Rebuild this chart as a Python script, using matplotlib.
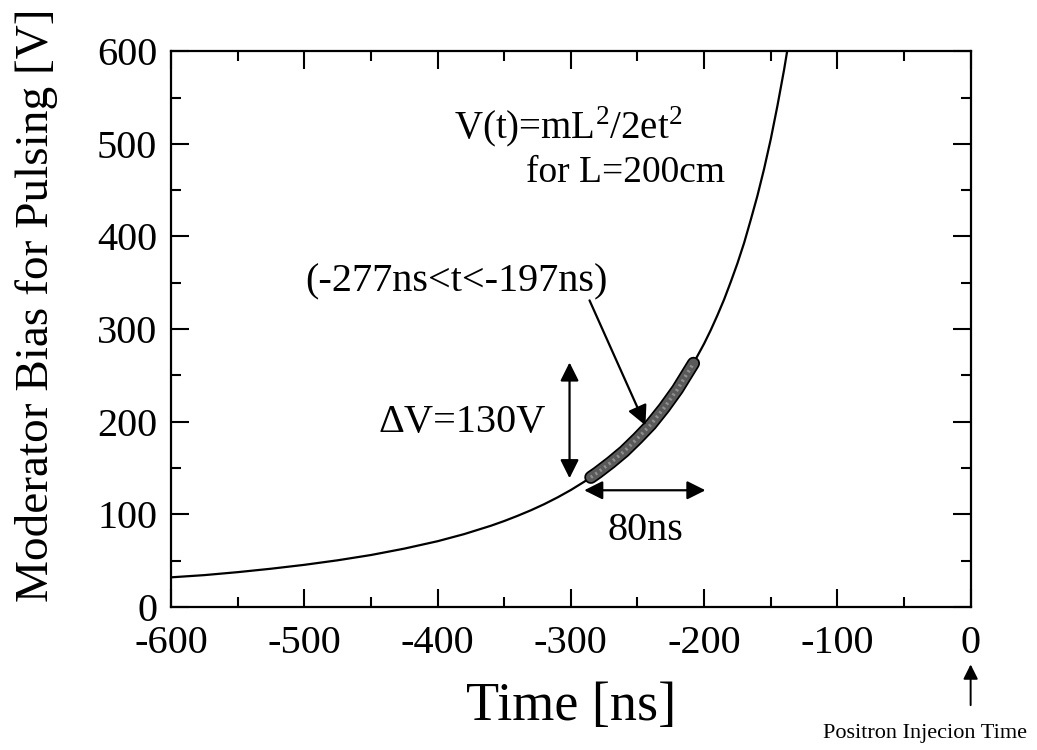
import matplotlib
matplotlib.use("Agg")
import matplotlib.pyplot as plt
from matplotlib.ticker import MultipleLocator

plt.rcParams['font.family'] = ['Liberation Serif', 'DejaVu Serif']
plt.rcParams['mathtext.fontset'] = 'custom'
plt.rcParams['mathtext.rm'] = 'Liberation Serif'

# curve: V(t) for L = 200 cm
time_ns = [-600, -575, -550, -525, -500, -475, -450, -425, -400, -380, -360,
           -350, -340, -330, -320, -310, -300, -290, -280, -270, -260, -250,
           -240, -230, -220, -210, -200, -195, -190, -185, -180, -175, -170,
           -165, -160, -155, -150, -145, -140, -137]
bias_v = [32, 34.4, 37.6, 41.3, 45.5, 50.4, 56.1, 63, 71, 78.7, 87.7,
          92.8, 98.4, 104.4, 111, 118.3, 126.3, 135.2, 145, 156, 168.2, 181.9,
          197.4, 214.9, 234.9, 257.8, 284.3, 299, 315, 332, 351, 371, 393,
          418, 444, 473, 505, 541, 580, 606]

# highlighted pulsing window
win_t = [-285, -280, -270, -260, -250, -240, -230, -220, -208]
win_v = [140, 145, 156, 168, 182, 197, 215, 235, 263]

xticks = [-600, -500, -400, -300, -200, -100, 0]
yticks = [0, 100, 200, 300, 400, 500, 600]

fig = plt.figure(figsize=(10.37, 7.5), dpi=100)
ax = fig.add_axes([0.165, 0.1907, 0.771, 0.741])

ax.plot(time_ns, bias_v, color='black', lw=1.6)
ax.plot(win_t, win_v, color='black', lw=9.5, solid_capstyle='round')
ax.plot(win_t, win_v, color='#5a5a5a', lw=7, solid_capstyle='round')
ax.plot(win_t, win_v, color='#8f8f8f', lw=2.5, ls=(0, (0.6, 1.0)))

ax.set_xlim(-600, 0)
ax.set_ylim(0, 600)
ax.set_xticks(xticks)
ax.set_yticks(yticks)
ax.set_xticklabels([str(v) for v in xticks])
ax.xaxis.set_minor_locator(MultipleLocator(50))
ax.yaxis.set_minor_locator(MultipleLocator(50))
ax.tick_params(which='both', direction='in', top=True, right=True, width=1.5,
               labelsize=29, pad=10)
ax.tick_params(axis='x', pad=13)
ax.tick_params(which='major', length=13)
ax.tick_params(which='minor', length=7)
for s in ax.spines.values():
    s.set_linewidth(1.6)

ax.set_xlabel('Time [ns]', fontsize=39, labelpad=14)
ax.set_ylabel('Moderator Bias for Pulsing [V]', fontsize=34)
ax.yaxis.set_label_coords(-0.142, 0.543)

ax.text(-388, 518, r'V(t)=mL$^2$/2et$^2$', fontsize=28, va='center')
ax.text(-334, 469, 'for L=200cm', fontsize=27, va='center')
ax.text(-499, 351, '(-277ns<t<-197ns)', fontsize=29, va='center')
ax.text(-444, 199, r'ΔV=130V', fontsize=29, va='center')
ax.text(-244, 83, '80ns', fontsize=29, va='center', ha='center')

head = dict(arrowstyle='-|>', color='black', lw=1.6,
            mutation_scale=30, shrinkA=0, shrinkB=0)
ax.annotate('', xy=(-244, 196), xytext=(-286, 331), arrowprops=head)

both = dict(arrowstyle='<|-|>', color='black', lw=1.6,
            mutation_scale=28, shrinkA=0, shrinkB=0)
ax.annotate('', xy=(-301, 264), xytext=(-301, 139), arrowprops=both)
ax.annotate('', xy=(-199, 126), xytext=(-290, 126), arrowprops=both)

# positron injection marker below the axis
ax.annotate('', xy=(0, -62), xytext=(0, -106), arrowprops=dict(
    arrowstyle='-|>', color='black', lw=1.4, mutation_scale=22,
    shrinkA=0, shrinkB=0), annotation_clip=False)
ax.text(-34, -137, 'Positron Injecion Time', fontsize=16, ha='center',
        va='center', clip_on=False)

fig.savefig('out.png', dpi=100)
